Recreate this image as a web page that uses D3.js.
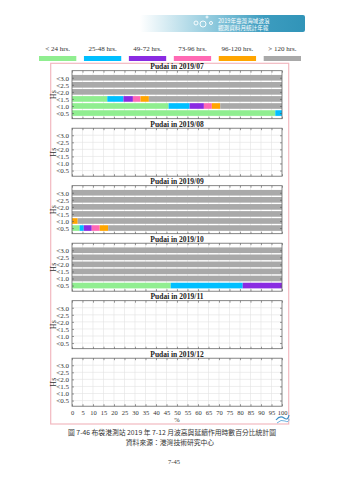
<!DOCTYPE html>
<html>
<head>
<meta charset="utf-8">
<script src="https://cdn.jsdelivr.net/npm/d3@7"></script>
<style>
  html, body { margin: 0; padding: 0; background: #fff; }
  svg { display: block; }
</style>
</head>
<body>
<svg id="chart" width="339" height="480"></svg>
<script>
// Wave-height persistence statistics, Pudai station, July–December 2019
const months = ["2019/07", "2019/08", "2019/09", "2019/10", "2019/11", "2019/12"];
const levels = [0.5, 1.0, 1.5, 2.0, 2.5, 3.0];
const levelLabels = ["<0.5", "<1.0", "<1.5", "<2.0", "<2.5", "<3.0"];
const durations = ["< 24 hrs.", "25-48 hrs.", "49-72 hrs.", "73-96 hrs.", "96-120 hrs.", "> 120 hrs."];
const durationColors = ["#90ee90", "#00bfff", "#8a2be2", "#ff69b4", "#ffa500", "#a9a9a9"];
const xTicks = d3.range(0, 101, 5);

// percentage of time per duration class, rows ordered <0.5 … <3.0
const jul = [
  [96.8, 3.2, 0, 0, 0, 0],
  [46.0, 10.0, 6.8, 3.8, 4.0, 29.4],
  [16.8, 7.7, 4.5, 3.6, 4.0, 63.4],
  [0, 0, 0, 0, 0, 100],
  [0, 0, 0, 0, 0, 100],
  [0, 0, 0, 0, 0, 100]
];
const aug = [];
const sep = [
  [3.6, 2.0, 3.8, 3.8, 4.0, 82.8],
  [0, 0, 0, 0, 2.7, 97.3],
  [0, 0, 0, 0, 0, 100],
  [0, 0, 0, 0, 0, 100],
  [0, 0, 0, 0, 0, 100],
  [0, 0, 0, 0, 0, 100]
];
const oct = [
  [47.0, 34.3, 18.7, 0, 0, 0],
  [0, 0, 0, 0, 0, 100],
  [0, 0, 0, 0, 0, 100],
  [0, 0, 0, 0, 0, 100],
  [0, 0, 0, 0, 0, 100],
  [0, 0, 0, 0, 0, 100]
];
const nov = [];
const dec = [];
const monthData = [jul, aug, sep, oct, nov, dec];

const svg = d3.select("#chart");
const serif = "'Liberation Serif', 'Times New Roman', serif";
const cjk = "'Noto Sans CJK TC', 'Noto Sans CJK SC', sans-serif";

// ---- header banner ----
const defs = svg.append("defs");
const grad = defs.append("linearGradient").attr("id", "banner").attr("x1", 0).attr("x2", 1);
grad.append("stop").attr("offset", 0).attr("stop-color", "#ffffff");
grad.append("stop").attr("offset", 0.45).attr("stop-color", "#8cc8dc");
grad.append("stop").attr("offset", 0.75).attr("stop-color", "#3c9cbf");
grad.append("stop").attr("offset", 1).attr("stop-color", "#3194b8");
svg.append("rect").attr("x", 140).attr("y", 15).attr("width", 165).attr("height", 17)
  .attr("rx", 2).attr("fill", "url(#banner)");
[[196, 23, 2], [203, 24, 3], [211, 23, 1.5], [207, 17, 1]].forEach(([cx, cy, r]) => {
  svg.append("circle").attr("cx", cx).attr("cy", cy).attr("r", r)
    .attr("fill", "none").attr("stroke", "#ffffff").attr("stroke-width", 0.9);
});
svg.append("text").attr("x", 218).attr("y", 22.5).attr("font-family", cjk)
  .attr("font-size", 5.6).attr("fill", "#ffffff").text("2019年臺灣海域波浪");
svg.append("text").attr("x", 218).attr("y", 29.5).attr("font-family", cjk)
  .attr("font-size", 5.6).attr("fill", "#ffffff").text("觀測資料月統計年報");

// ---- legend ----
const legendX = d3.scaleBand().domain(durations).range([39, 301]).paddingInner(0.17);
const legend = svg.append("g");
durations.forEach((d, i) => {
  const x0 = legendX(d);
  legend.append("text").attr("x", x0 + legendX.bandwidth() / 2).attr("y", 51)
    .attr("text-anchor", "middle").attr("font-family", serif).attr("font-size", 7)
    .attr("fill", "#333").text(d);
  legend.append("rect").attr("x", x0).attr("y", 56).attr("width", legendX.bandwidth())
    .attr("height", 5).attr("fill", durationColors[i]);
});

// ---- outer frame ----
svg.append("rect").attr("x", 50.7).attr("y", 63.3).attr("width", 238).attr("height", 360.7)
  .attr("fill", "none").attr("stroke", "#f2b9c0").attr("stroke-width", 1.2);

// ---- panels ----
const plotLeft = 72, plotRight = 282, plotH = 48, firstTop = 70.7, step = 57.5;
const x = d3.scaleLinear().domain([0, 100]).range([plotLeft, plotRight]);
const stack = d3.stack().keys(d3.range(durations.length));

monthData.forEach((rows, mi) => {
  const top = firstTop + mi * step;
  const bottom = top + plotH;
  const y = d3.scaleLinear().domain([0.1, 3.5]).range([bottom, top]);
  const barH = y(0) - y(0.4);
  const g = svg.append("g");

  g.append("text").attr("x", (plotLeft + plotRight) / 2).attr("y", top - 1.6)
    .attr("text-anchor", "middle").attr("font-family", serif).attr("font-weight", "bold")
    .attr("font-size", 7.5).attr("fill", "#222").text("Pudai in " + months[mi]);

  // grid
  g.append("g").selectAll("line").data(xTicks.slice(1, -1)).join("line")
    .attr("x1", d => x(d)).attr("x2", d => x(d)).attr("y1", top).attr("y2", bottom)
    .attr("stroke", "#e3e3e3").attr("stroke-width", 0.6);
  g.append("g").selectAll("line").data(levels).join("line")
    .attr("x1", plotLeft).attr("x2", plotRight).attr("y1", d => y(d)).attr("y2", d => y(d))
    .attr("stroke", "#e3e3e3").attr("stroke-width", 0.6);

  // stacked bars
  if (rows.length) {
    const series = stack(rows);
    series.forEach((s, k) => {
      g.append("g").selectAll("rect").data(s).join("rect")
        .attr("x", d => x(d[0])).attr("width", d => x(d[1]) - x(d[0]))
        .attr("y", (d, i) => y(levels[i]) - barH / 2).attr("height", barH)
        .attr("fill", durationColors[k]);
    });
  }

  // axes
  const axisStyle = sel => {
    sel.select(".domain").remove();
    sel.selectAll(".tick line").attr("stroke", "#555").attr("stroke-width", 0.6);
    sel.selectAll("text").attr("font-family", serif).attr("fill", "#333");
  };
  g.append("g").attr("transform", `translate(${plotLeft},0)`)
    .call(d3.axisLeft(y).tickValues(levels).tickSize(-2).tickPadding(3)
      .tickFormat((d, i) => levelLabels[i]))
    .call(axisStyle).call(s => s.selectAll("text").attr("font-size", 7));
  g.append("g").attr("transform", `translate(${plotRight},0)`)
    .call(d3.axisRight(y).tickValues(levels).tickSize(-2).tickFormat(""))
    .call(axisStyle);
  g.append("g").attr("transform", `translate(0,${top})`)
    .call(d3.axisTop(x).tickValues(xTicks).tickSize(-2).tickFormat(""))
    .call(axisStyle);
  const bottomAxis = d3.axisBottom(x).tickValues(xTicks).tickSize(-2).tickPadding(4);
  if (mi < months.length - 1) bottomAxis.tickFormat("");
  g.append("g").attr("transform", `translate(0,${bottom})`)
    .call(bottomAxis).call(axisStyle).call(s => s.selectAll("text").attr("font-size", 6.5));

  g.append("rect").attr("x", plotLeft).attr("y", top).attr("width", plotRight - plotLeft)
    .attr("height", plotH).attr("fill", "none").attr("stroke", "#666").attr("stroke-width", 0.8);

  g.append("text").attr("transform", `translate(56,${(top + bottom) / 2}) rotate(-90)`)
    .attr("text-anchor", "middle").attr("font-family", serif).attr("font-size", 8)
    .attr("fill", "#333").text("Hs");
});

// x-axis unit
svg.append("text").attr("x", (plotLeft + plotRight) / 2).attr("y", 421.5)
  .attr("text-anchor", "middle").attr("font-family", serif).attr("font-size", 6.5)
  .attr("fill", "#333").text("%");

// small emblem in the frame corner
const emb = svg.append("g").attr("transform", "translate(276,414)");
emb.append("path").attr("d", "M0,6 Q4,1 8,4 T13,1").attr("fill", "none")
  .attr("stroke", "#3a8fc8").attr("stroke-width", 1.2);
emb.append("path").attr("d", "M1,9 Q5,5 9,7 T13,5").attr("fill", "none")
  .attr("stroke", "#6fb3e0").attr("stroke-width", 1);

// captions
svg.append("text").attr("x", 172).attr("y", 435).attr("text-anchor", "middle")
  .attr("font-family", cjk).attr("font-size", 6.8).attr("fill", "#333")
  .text("圖 7-46 布袋港測站 2019 年 7-12 月波高與延續作用時數百分比統計圖");
svg.append("text").attr("x", 170).attr("y", 445).attr("text-anchor", "middle")
  .attr("font-family", cjk).attr("font-size", 6.8).attr("fill", "#333")
  .text("資料來源：港灣技術研究中心");
svg.append("text").attr("x", 174).attr("y", 464).attr("text-anchor", "middle")
  .attr("font-family", serif).attr("font-size", 6.5).attr("fill", "#333").text("7-45");
</script>
</body>
</html>
